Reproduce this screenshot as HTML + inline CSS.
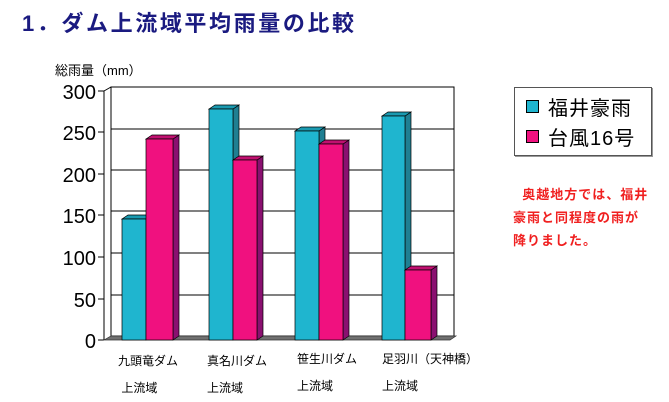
<!DOCTYPE html><html><head><meta charset="utf-8"><style>
body{margin:0;width:669px;height:400px;background:#fff;overflow:hidden;position:relative;font-family:"Liberation Sans","Noto Sans CJK JP",sans-serif}
.a{position:absolute;white-space:nowrap}
</style></head><body>
<div class="a" style="left:22px;top:6px;font-size:22px;font-weight:bold;color:#1a1a80;letter-spacing:2.6px">1．ダム上流域平均雨量の比較</div>
<div class="a" style="left:55px;top:60px;font-size:13px">総雨量（mm）</div>
<svg class="a" style="left:0;top:0" width="669" height="400">
<g fill="none" stroke="#000" stroke-width="1">
<rect x="111" y="87" width="343" height="249" fill="#fff"/>
<path d="M111 129H454M111 170H454M111 211H454M111 253H454M111 295H454"/>
<path d="M104 91V340M104 91L111 87M98 91H104M98 132H104M98 174H104M98 215H104M98 257H104M98 299H104M98 340H104"/>
</g>
<polygon points="104,340 111,336 456,336 450,340" fill="#707070" stroke="#333" stroke-width="0.7"/>
<g stroke="#000" stroke-width="0.7">
<g id="b"></g>
</g>
<g font-size="20" text-anchor="end" font-family="Liberation Sans,sans-serif">
<text x="96" y="99">300</text><text x="96" y="140">250</text><text x="96" y="182">200</text><text x="96" y="223">150</text><text x="96" y="265">100</text><text x="96" y="307">50</text><text x="96" y="348">0</text>
</g>
</svg>
<script>
var bars=[[122,146,219,'c'],[146,173,139,'m'],[209,233,109,'c'],[233,257,160,'m'],[295,319,131,'c'],[319,343,144,'m'],[382,405,116,'c'],[405,431,270,'m']];
var col={c:['#1fb5cf','#1f7f92','#1a9ab0'],m:['#f0117f','#8a1070','#c01070']};
var s='';bars.forEach(function(b){var c=col[b[3]],x0=b[0],x1=b[1],t=b[2],d=6,h=4;
s+='<polygon points="'+x1+','+t+' '+(x1+d)+','+(t-h)+' '+(x1+d)+','+(340-h)+' '+x1+',340" fill="'+c[1]+'"/>';
s+='<polygon points="'+x0+','+t+' '+(x0+d)+','+(t-h)+' '+(x1+d)+','+(t-h)+' '+x1+','+t+'" fill="'+c[2]+'"/>';
s+='<rect x="'+x0+'" y="'+t+'" width="'+(x1-x0)+'" height="'+(340-t)+'" fill="'+c[0]+'"/>';});
document.getElementById('b').innerHTML=s;
</script>
<div class="a" style="left:118px;top:348px;font-size:12px;line-height:27px">九頭竜ダム<br>&nbsp;上流域</div>
<div class="a" style="left:207px;top:348px;font-size:12px;line-height:27px">真名川ダム<br>上流域</div>
<div class="a" style="left:297px;top:346px;font-size:12px;line-height:27px">笹生川ダム<br>上流域</div>
<div class="a" style="left:382px;top:346px;font-size:12px;line-height:27px">足羽川（天神橋）<br>上流域</div>
<div class="a" style="left:514px;top:87px;width:136px;height:67px;border:1px solid #555;box-shadow:1px 1px 0 #999"></div>
<div class="a" style="left:526px;top:100px;width:11px;height:11px;background:#1fb5cf;border:1px solid #000"></div>
<div class="a" style="left:526px;top:130px;width:11px;height:11px;background:#f0117f;border:1px solid #000"></div>
<div class="a" style="left:548px;top:92px;font-size:20px;letter-spacing:1px">福井豪雨</div>
<div class="a" style="left:548px;top:122px;font-size:20px;letter-spacing:1px">台風16号</div>
<div class="a" style="left:513px;top:183px;font-size:13px;font-weight:bold;color:#f02020;line-height:23px;letter-spacing:1px">&nbsp;&nbsp;奥越地方では、福井<br>豪雨と同程度の雨が<br>降りました。</div>
</body></html>
